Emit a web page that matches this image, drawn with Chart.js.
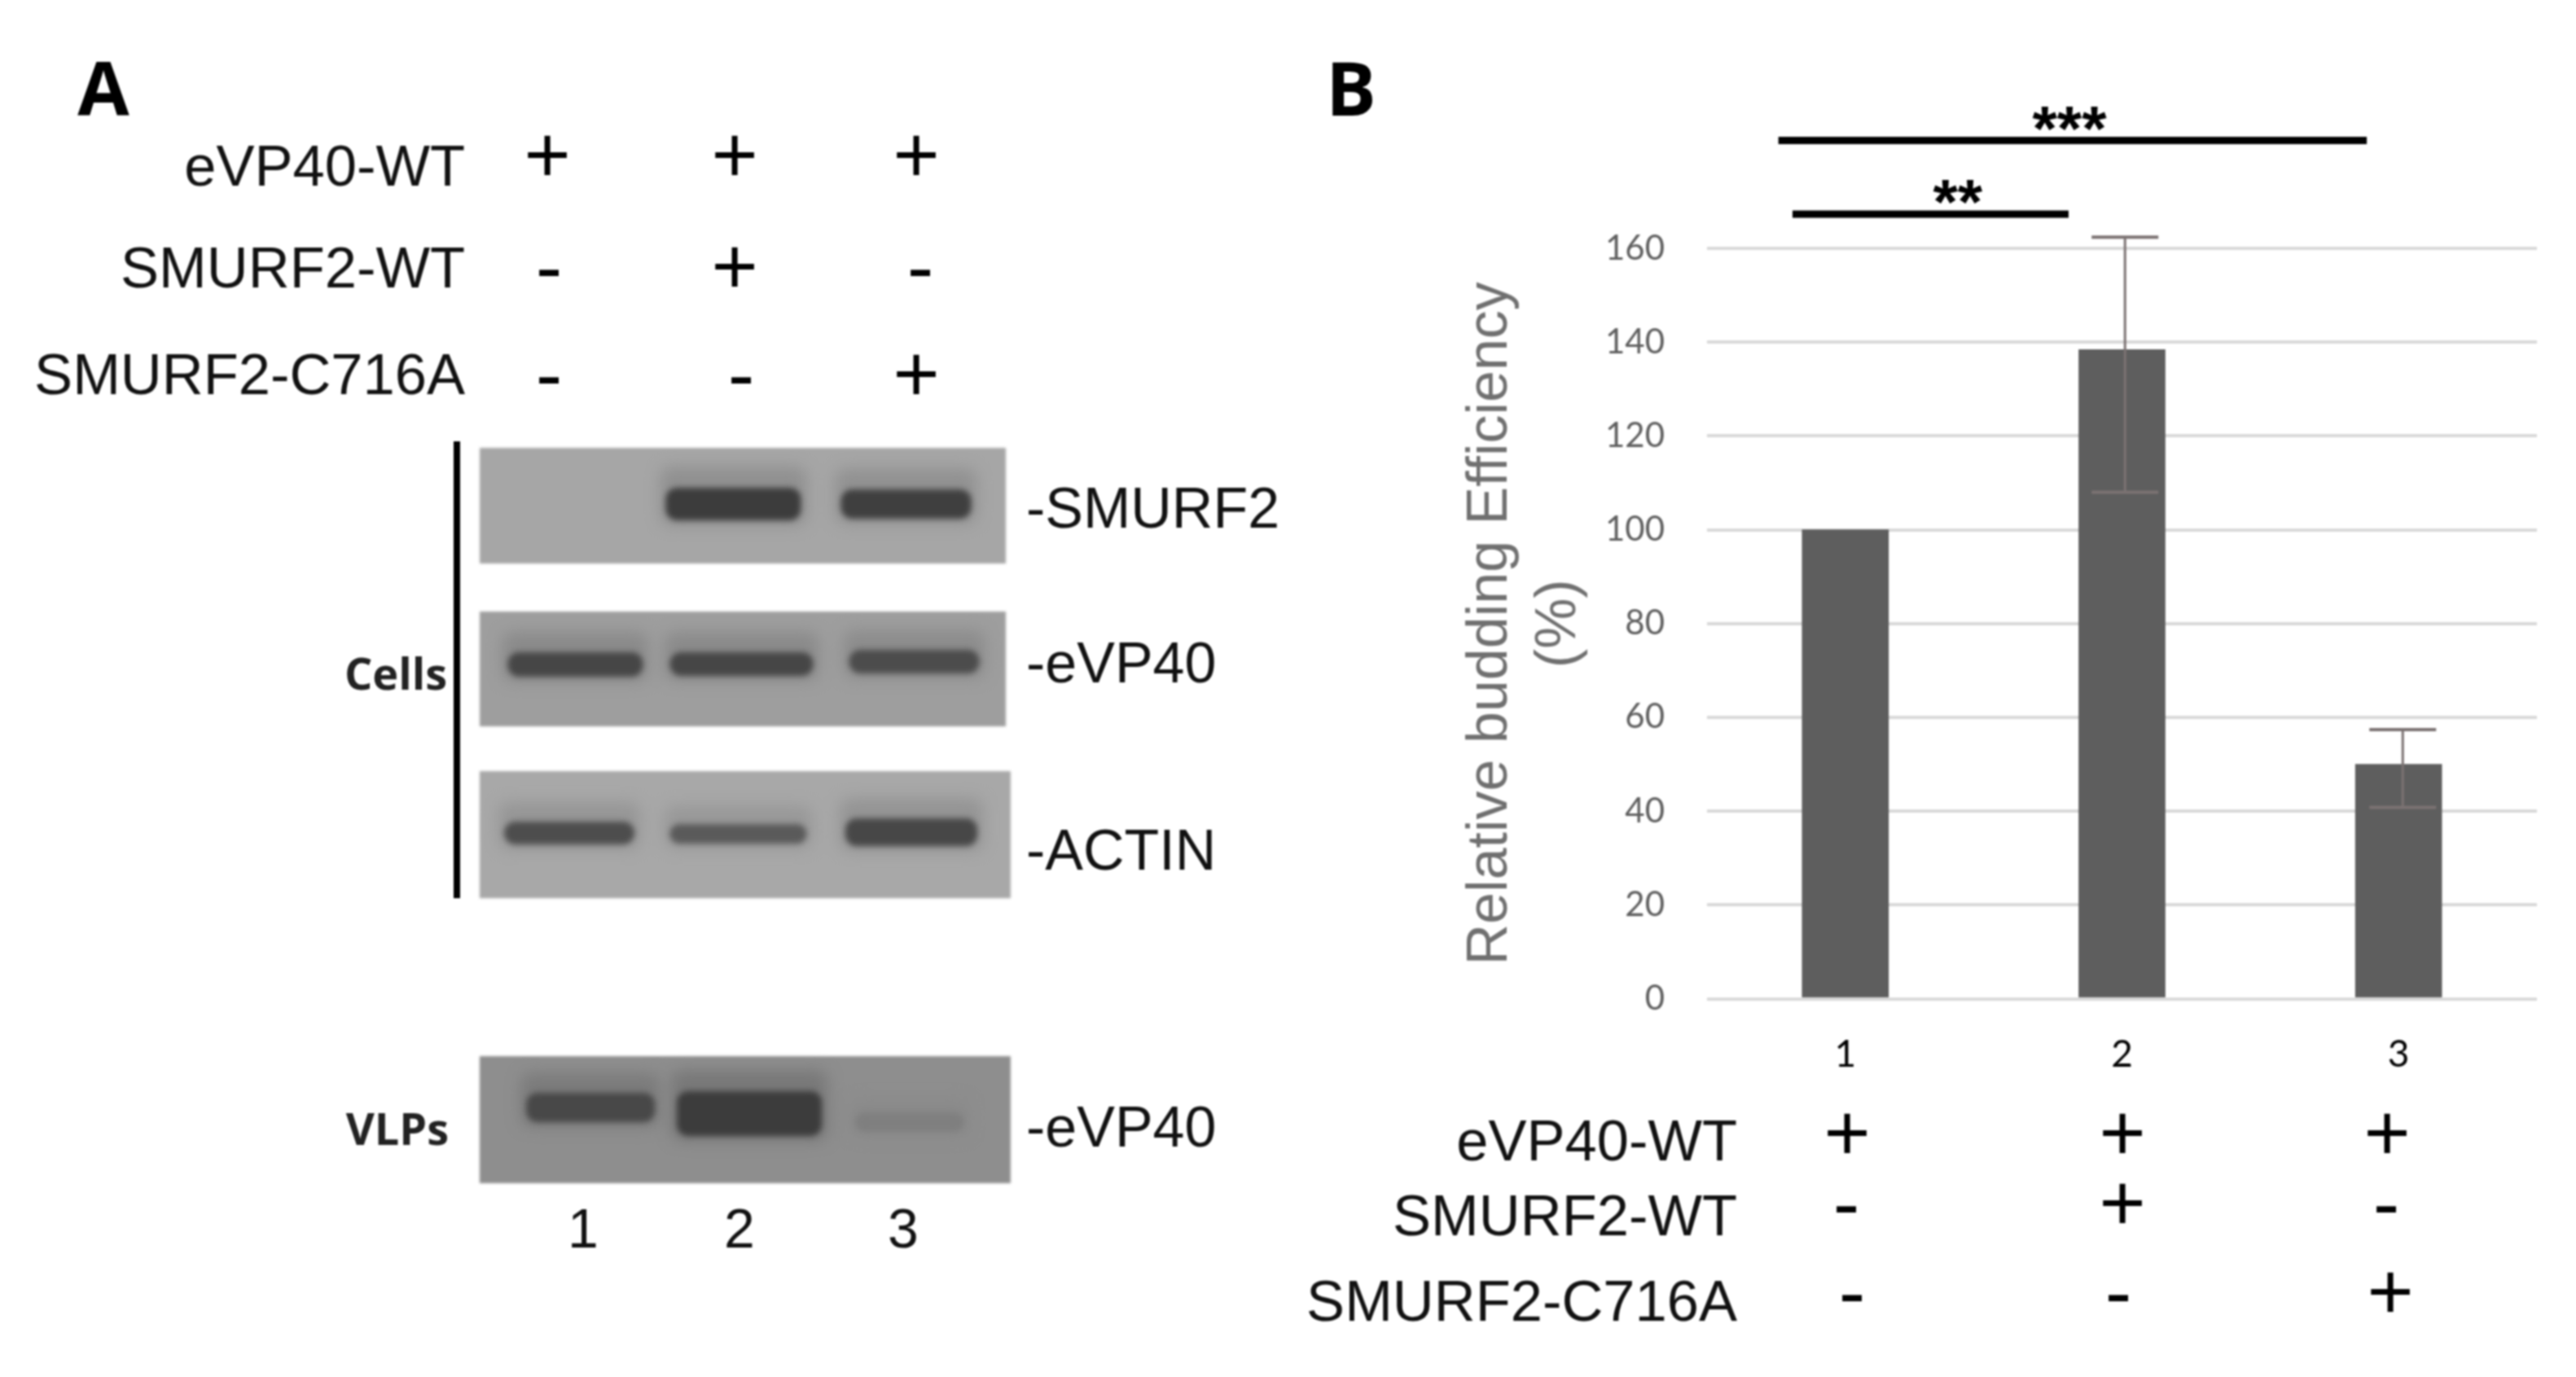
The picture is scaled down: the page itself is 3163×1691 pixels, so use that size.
<!DOCTYPE html>
<html>
<head>
<meta charset="utf-8">
<title>SMURF2 and eVP40 budding</title>
<script src="https://cdn.jsdelivr.net/npm/chart.js@4"></script>
<style>
    html, body { margin: 0; background: #fff; }
    #page { position: relative; width: 3163px; height: 1691px; overflow: hidden; background: #fff; filter: blur(0.8px); }
    #page canvas { position: absolute; left: 0; top: 0; }
    .txt { position: absolute; white-space: nowrap; line-height: 1; color: #111; font-family: "Liberation Sans", Arial, sans-serif; }
</style>
</head>
<body>
<div id="page">
    <canvas id="blots" width="3163" height="1691"></canvas>
    <canvas id="bars" width="3163" height="1691"></canvas>
</div>
<script>
// panel B values
const lanes = ["1", "2", "3"];
const efficiency = [100, 138.4, 50];
const errHigh = [null, 162.4, 57.4];
const errLow = [null, 108, 40.8];
const errLane = [null, 1.011, 2.015];
const yTicks = [0, 20, 40, 60, 80, 100, 120, 140, 160];
const yTitle = ["Relative budding Efficiency", "(%)"];

// significance bars, x in lane index, y in % units
const sigFrom = [-0.242, -0.191];
const sigTo = [1.885, 0.807];
const sigLevel = [183, 167.3];
const sigStarLane = [0.81, 0.406];
const sigStars = ["***", "**"];

// conditions under each lane
const conditionNames = ["eVP40-WT", "SMURF2-WT", "SMURF2-C716A"];
const evp40Row = ["+", "+", "+"];
const smurf2WtRow = ["-", "+", "-"];
const c716aRow = ["-", "-", "+"];

// panel A band darkness per lane (0 = no band, 1 = darkest)
const smurf2Bands = [0, 1, 0.97];
const cellVp40Bands = [0.9, 0.9, 0.84];
const actinBands = [0.84, 0.72, 0.9];
const vlpVp40Bands = [0.85, 1, 0.18];
const blotNames = ["-SMURF2", "-eVP40", "-ACTIN", "-eVP40"];

// layout of the blots: y in px below the top of panel A, x in lane units
const blotLayout = [
    { bands: smurf2Bands, paper: 0xa6, box: [10, 152], lane: 2.0, wide: 646,
      centers: [1, 1.944, 2.969], widths: [160, 172, 166], ys: [[59, 99], [59, 99], [61, 97]] },
    { bands: cellVp40Bands, paper: 0x9e, box: [211, 352], lane: 2.0, wide: 646,
      centers: [1.007, 1.993, 3.017], widths: [172, 182, 166], ys: [[261, 291], [261, 290], [258, 287]] },
    { bands: actinBands, paper: 0xa8, box: [407, 563], lane: 2.014, wide: 652,
      centers: [0.971, 1.973, 3.0], widths: [166, 174, 168], ys: [[469, 497], [472, 496], [465, 499]] },
    { bands: vlpVp40Bands, paper: 0x8e, box: [757, 913], lane: 2.014, wide: 652,
      centers: [1.097, 2.039, 2.99], widths: [164, 184, 140], ys: [[802, 838], [800, 855], [826, 850]] },
];

const SANS = '"Liberation Sans", Arial, sans-serif';
const page = document.getElementById("page");

function gray(v) {
    const c = Math.round(v);
    return `rgb(${c},${c},${c})`;
}

function addText(text, x, y, size, opts = {}) {
    const el = document.createElement("div");
    el.className = "txt";
    el.textContent = text;
    el.style.left = x + "px";
    el.style.top = y + "px";
    el.style.fontSize = size + "px";
    if (opts.family) el.style.fontFamily = opts.family;
    if (opts.weight) el.style.fontWeight = opts.weight;
    if (opts.color) el.style.color = opts.color;
    const shiftX = opts.align === "right" ? "-100%" : opts.align === "left" ? "0" : "-50%";
    el.style.transform = `translate(${shiftX}, -50%)`;
    page.appendChild(el);
}

// bands and paper are floating bars, this applies the smear to them
const smearPlugin = {
    id: "smear",
    beforeDatasetDraw(chart, args) {
        const ds = chart.data.datasets[args.index];
        chart.ctx.save();
        if (ds.smear) chart.ctx.filter = `blur(${ds.smear}px)`;
    },
    afterDatasetDraw(chart) {
        chart.ctx.restore();
    },
};

function bar(point, thickness, color, order, smear, radius) {
    return {
        data: [point],
        barThickness: thickness,
        backgroundColor: color,
        order,
        smear,
        borderRadius: radius,
        borderSkipped: false,
        inflateAmount: 0,
        grouped: false,
    };
}

const blotSets = [];
blotLayout.forEach((blot) => {
    blotSets.push(bar({ x: blot.lane, y: blot.box }, blot.wide, gray(blot.paper), 5, 1.5, 0));
    blot.bands.forEach((dark, i) => {
        if (!dark) return;
        const [a, b] = blot.ys[i];
        const tone = gray(blot.paper - dark * (blot.paper - 0x3c));
        // faint halo round the band, stronger above it
        blotSets.push(bar({ x: blot.centers[i], y: [a - 14 - 12 * dark, b + 6] }, blot.widths[i] + 8,
            gray(blot.paper - dark * 22), 4, 9, 14));
        blotSets.push(bar({ x: blot.centers[i], y: [a, b] }, blot.widths[i] - 6, tone, 3, 3.5, 14));
    });
});
// bracket next to the cell blots
blotSets.push(bar({ x: 0.304, y: [2, 563] }, 8, "#000", 1, 0, 0));

new Chart(document.getElementById("blots"), {
    type: "bar",
    data: { datasets: blotSets },
    options: {
        responsive: false,
        animation: false,
        devicePixelRatio: 1,
        layout: { padding: { left: 550, right: 1913, top: 540, bottom: 231 } },
        plugins: { legend: { display: false }, tooltip: { enabled: false } },
        scales: {
            x: { type: "linear", display: false, offset: false, min: 0.251, max: 3.633 },
            y: { type: "linear", display: false, min: 0, max: 920, reverse: true },
        },
    },
    plugins: [smearPlugin],
});

// error bars and significance bars go through the chart scales
const marksPlugin = {
    id: "marks",
    afterDatasetsDraw(chart) {
        const { ctx, scales: { x, y } } = chart;
        ctx.save();
        ctx.strokeStyle = "#7b7272";
        errLane.forEach((lane, i) => {
            if (lane === null) return;
            const px = x.getPixelForValue(lane);
            const hi = y.getPixelForValue(errHigh[i]);
            const lo = y.getPixelForValue(errLow[i]);
            ctx.lineWidth = 3;
            ctx.beginPath();
            ctx.moveTo(px, hi);
            ctx.lineTo(px, lo);
            ctx.stroke();
            ctx.lineWidth = 4;
            ctx.beginPath();
            ctx.moveTo(px - 41, hi);
            ctx.lineTo(px + 41, hi);
            ctx.moveTo(px - 41, lo);
            ctx.lineTo(px + 41, lo);
            ctx.stroke();
        });
        ctx.strokeStyle = "#000";
        ctx.fillStyle = "#000";
        ctx.lineWidth = 9;
        ctx.font = `bold 78px ${SANS}`;
        ctx.textAlign = "center";
        ctx.textBaseline = "alphabetic";
        sigLevel.forEach((level, i) => {
            const py = y.getPixelForValue(level);
            ctx.beginPath();
            ctx.moveTo(x.getPixelForValue(sigFrom[i]), py);
            ctx.lineTo(x.getPixelForValue(sigTo[i]), py);
            ctx.stroke();
            ctx.fillText(sigStars[i], x.getPixelForValue(sigStarLane[i]), py + 12);
        });
        ctx.restore();
    },
};

new Chart(document.getElementById("bars"), {
    type: "bar",
    data: {
        labels: lanes,
        datasets: [{ data: efficiency, backgroundColor: "#5e5e5e", barThickness: 106 }],
    },
    options: {
        responsive: false,
        animation: false,
        devicePixelRatio: 1,
        layout: { padding: { left: 1789, right: 48, top: 305, bottom: 364.5 } },
        plugins: { legend: { display: false }, tooltip: { enabled: false } },
        scales: {
            x: {
                grid: { display: false },
                border: { display: false },
                ticks: { padding: 33, color: "#000", font: { family: "Lato", size: 46 }, maxRotation: 0 },
                afterFit: (s) => { s.height = 100; },
            },
            y: {
                min: 0,
                max: 160,
                grid: { color: "#d9d9d9", lineWidth: 4, drawTicks: false },
                border: { display: false },
                afterBuildTicks: (s) => { s.ticks = yTicks.map((value) => ({ value })); },
                ticks: { padding: 52, color: "#5f5f5f", font: { family: "Lato", size: 42 } },
                title: {
                    display: true,
                    text: yTitle,
                    color: "#707070",
                    font: { family: "Liberation Sans", size: 70, lineHeight: 1.2 },
                    padding: 0,
                },
                afterFit: (s) => { s.width = 307; },
            },
        },
    },
    plugins: [marksPlugin],
});

// panel letters
addText("A", 127, 107, 92, { family: "Open Sans", weight: 700, color: "#000" });
addText("B", 1659, 107, 92, { family: "Open Sans", weight: 700, color: "#000" });

// condition table, panel A
const rows = [evp40Row, smurf2WtRow, c716aRow];
const aNameY = [204, 329, 460];
const aMarkY = [190, 327, 459];
const aMarkX = [[672, 902, 1125], [674, 902, 1130], [674, 910, 1125]];
conditionNames.forEach((name, r) => {
    addText(name, 571, aNameY[r], 70.5, { align: "right" });
    rows[r].forEach((m, c) => addText(m, aMarkX[r][c], aMarkY[r], 98, { color: "#000" }));
});

// condition table, panel B
const bNameY = [1401, 1493, 1598];
const bMarkY = [1391, 1477, 1586];
const bMarkX = [[2268, 2606, 2931], [2267, 2606, 2930], [2274, 2601, 2935]];
conditionNames.forEach((name, r) => {
    addText(name, 2133, bNameY[r], 70.5, { align: "right" });
    rows[r].forEach((m, c) => addText(m, bMarkX[r][c], bMarkY[r], 98, { color: "#000" }));
});

// blot labels
const blotLabelY = [624, 814, 1044, 1384];
blotNames.forEach((name, i) => addText(name, 1260, blotLabelY[i], 70, { align: "left" }));
const blotLaneX = [716, 908, 1109];
lanes.forEach((l, i) => addText(l, blotLaneX[i], 1508, 68));
addText("Cells", 549, 826, 54, { family: "Open Sans", weight: 700, align: "right", color: "#222" });
addText("VLPs", 551, 1385, 54, { family: "Open Sans", weight: 700, align: "right", color: "#222" });
</script>
</body>
</html>
